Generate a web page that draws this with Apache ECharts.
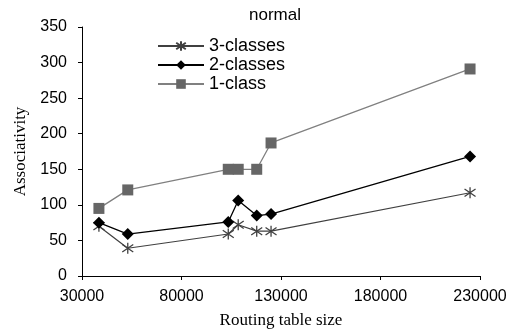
<!DOCTYPE html>
<html>
<head>
<meta charset="utf-8">
<script src="https://cdn.jsdelivr.net/npm/echarts@6/dist/echarts.min.js"></script>
<style>
  html, body { margin: 0; padding: 0; background: #fff; }
  #chart { width: 518px; height: 334px; }
</style>
</head>
<body>
<div id="chart"></div>
<script>
// Routing table sizes (x) and associativity per class count
var tableSizes = [38500, 53000, 103500, 108500, 117800, 125000, 225000];
var threeClasses = [70, 39, 59, 72, 63, 63, 117];
var twoClasses = [75, 59, 76, 106, 85, 87, 168];
var oneClass = [95, 121, 150, 150, 150, 187, 291];
var seriesNames = ['3-classes', '2-classes', '1-class'];

function pairs(ys) {
  return tableSizes.map(function (x, i) { return [x, ys[i]]; });
}

// asterisk marker: vertical stroke plus two diagonals
var starPath = 'path://M5,0 L5,10 M1.3,1.6 L8.7,8.4 M8.7,1.6 L1.3,8.4';

var chart = echarts.init(document.getElementById('chart'));
chart.setOption({
  animation: false,
  title: {
    text: 'normal',
    left: 275,
    top: 0,
    padding: [7, 0, 0, 0],
    textAlign: 'center',
    textStyle: { fontFamily: 'Liberation Sans', fontSize: 17, fontWeight: 'normal', color: '#000' }
  },
  legend: {
    orient: 'vertical',
    left: 157,
    top: 37,
    padding: 0,
    itemWidth: 46,
    itemHeight: 12,
    itemGap: 1,
    textStyle: { fontFamily: 'Liberation Sans', fontSize: 18, color: '#000', padding: [0, 0, 0, 0] },
    data: seriesNames
  },
  grid: { left: 82, right: 38, top: 27, bottom: 57 },
  xAxis: {
    type: 'value',
    min: 30000,
    max: 230000,
    interval: 50000,
    name: 'Routing table size',
    nameLocation: 'middle',
    nameGap: 36,
    nameTextStyle: { fontFamily: 'Liberation Serif', fontSize: 17, color: '#000' },
    axisLine: { lineStyle: { color: '#000', width: 1 } },
    axisTick: { show: true, length: 4, lineStyle: { color: '#000' } },
    axisLabel: {
      fontFamily: 'Liberation Sans', fontSize: 16, color: '#000', margin: 13,
      formatter: function (v) { return String(v); }
    },
    splitLine: { show: false }
  },
  yAxis: {
    type: 'value',
    min: 0,
    max: 350,
    interval: 50,
    name: 'Associativity',
    nameLocation: 'middle',
    nameGap: 52,
    nameTextStyle: { fontFamily: 'Liberation Serif', fontSize: 17, color: '#000' },
    axisLine: { show: true, lineStyle: { color: '#000', width: 1 } },
    axisTick: { show: true, length: 4, lineStyle: { color: '#000' } },
    axisLabel: {
      fontFamily: 'Liberation Sans', fontSize: 16, color: '#000', margin: 15,
      formatter: function (v) { return String(v); }
    },
    splitLine: { show: false }
  },
  series: [
    {
      name: seriesNames[0],
      type: 'line',
      data: pairs(threeClasses),
      symbol: starPath,
      symbolSize: 11,
      lineStyle: { color: '#404040', width: 1.2 },
      itemStyle: { color: 'rgba(0,0,0,0)', borderColor: '#404040', borderWidth: 1.3 }
    },
    {
      name: seriesNames[1],
      type: 'line',
      data: pairs(twoClasses),
      symbol: 'diamond',
      symbolSize: 12,
      lineStyle: { color: '#000', width: 1.3 },
      itemStyle: { color: '#000', borderWidth: 0 }
    },
    {
      name: seriesNames[2],
      type: 'line',
      data: pairs(oneClass),
      symbol: 'rect',
      symbolSize: 11,
      lineStyle: { color: '#808080', width: 1.3 },
      itemStyle: { color: '#666', borderWidth: 0 }
    }
  ]
});
</script>
</body>
</html>
